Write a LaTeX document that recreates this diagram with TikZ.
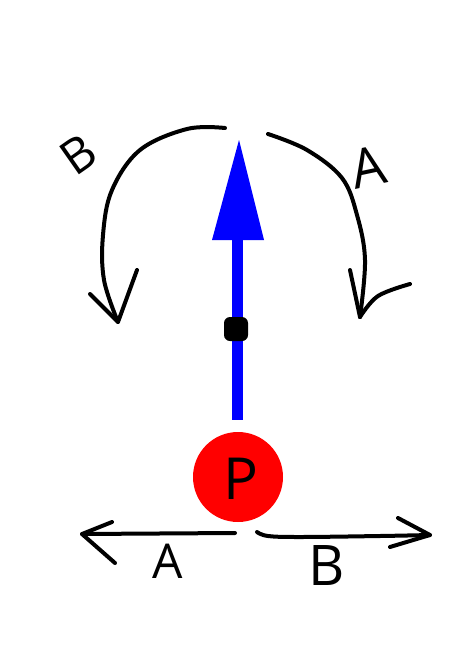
\documentclass[tikz,border=0pt]{standalone}
\usepackage{fontspec}
\setmainfont{Open Sans}
\begin{document}
\begin{tikzpicture}[x=1pt,y=-1pt,
  ink/.style={draw=black,line width=4pt,line cap=round,line join=round},
  hand/.style={font=\fontsize{48}{48}\selectfont,inner sep=0pt,text=black}]
\useasboundingbox[fill=white] (0,0) rectangle (474,670);
% blue arrow
\coordinate (shaftbot) at (237,420);
\coordinate (tip) at (239,140);
\fill[blue] (232,240) rectangle (243,420);
\fill[blue] (tip) -- (212,240) -- (264,240) -- cycle;
% black dot
\node[fill=black,rounded corners=6pt,minimum size=24pt,inner sep=0pt] (dot) at (236,329) {};
% red ball
\node[circle,fill=red,minimum size=90pt,inner sep=0pt] (P) at (238,477) {};
\node[hand,font=\fontsize{58}{58}\selectfont] (Plabel) at (241,479) {P};
% bottom left arrow
\coordinate (bl0) at (235,533);
\coordinate (bl1) at (82,534);
\draw[ink] (bl0) -- (bl1);
\draw[ink] (112,522) -- (bl1) -- (115,563);
\node[hand] (Abot) at (168,561) {A};
% bottom right arrow
\coordinate (br0) at (257,532);
\coordinate (br1) at (430,535);
\draw[ink] plot[smooth,tension=0.6] coordinates {(br0) (268,536) (300,537) (380,536) (br1)};
\draw[ink] (398,518) -- (br1) -- (390,547);
\node[hand,font=\fontsize{56}{56}\selectfont] (Bbot) at (327,566) {B};
% top left curved arrow
\coordinate (tl0) at (225,128);
\coordinate (tl1) at (118,322);
\draw[ink] plot[smooth,tension=0.6] coordinates {(tl0) (187,129) (140,150) (112,190) (103,235) (104,280) (tl1)};
\draw[ink] (90,294) -- (tl1) -- (137,270);
\node[hand,rotate=35] (Btop) at (78,155) {B};
% top right curved arrow
\coordinate (tr0) at (268,134);
\coordinate (tr1) at (360,317);
\draw[ink] plot[smooth,tension=0.6] coordinates {(tr0) (307,150) (342,178) (357,215) (365,260) (tr1)};
\draw[ink] (350,270) -- (tr1);
\draw[ink] plot[smooth,tension=0.6] coordinates {(tr1) (378,296) (410,284)};
\node[hand,rotate=12,font=\fontsize{54}{54}\selectfont] (Atop) at (368,167) {A};
\end{tikzpicture}
\end{document}
